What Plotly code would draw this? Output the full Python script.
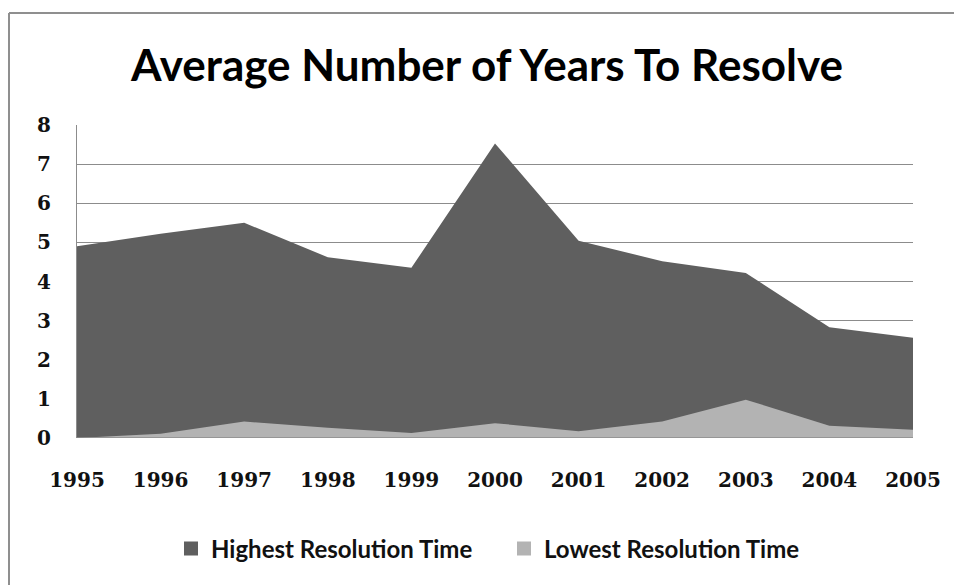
import plotly.graph_objects as go

# Average number of years to resolve, by year
years = [1995, 1996, 1997, 1998, 1999, 2000, 2001, 2002, 2003, 2004, 2005]
highest = [4.9, 5.22, 5.5, 4.62, 4.35, 7.53, 5.04, 4.52, 4.22, 2.83, 2.56]
lowest = [0.0, 0.11, 0.42, 0.26, 0.13, 0.38, 0.17, 0.42, 0.98, 0.31, 0.21]
y_ticks = [0, 1, 2, 3, 4, 5, 6, 7, 8]

DARK = "#5f5f5f"
LIGHT = "#b3b3b3"
GRID = "#8c8c8c"

W, H = 954, 585
ML, MR, MT, MB = 77, 41, 125, 147
PW = W - ML - MR
PH = H - MT - MB


def px_x(px):
    return (px - ML) / PW


def px_y(py):
    return (H - MB - py) / PH


fig = go.Figure()

# Overlapping (unstacked) areas; the lower series is drawn in front
fig.add_trace(go.Scatter(
    x=years, y=highest, mode="lines", fill="tozeroy",
    line=dict(width=0, color=DARK), fillcolor=DARK,
    showlegend=False, hoverinfo="x+y", name="Highest Resolution Time",
))
fig.add_trace(go.Scatter(
    x=years, y=lowest, mode="lines", fill="tozeroy",
    line=dict(width=0, color=LIGHT), fillcolor=LIGHT,
    showlegend=False, hoverinfo="x+y", name="Lowest Resolution Time",
))

# Square swatches for the legend
for name, col in [("Highest Resolution Time", DARK), ("Lowest Resolution Time", LIGHT)]:
    fig.add_trace(go.Scatter(
        x=[None], y=[None], mode="markers", name=name,
        marker=dict(symbol="square", size=14, color=col),
    ))

fig.update_layout(
    width=W, height=H,
    margin=dict(l=ML, r=MR, t=MT, b=MB),
    paper_bgcolor="white", plot_bgcolor="white",
    title=dict(
        text="Average Number of Years To Resolve",
        font=dict(family="Lato", size=44, color="#000000", weight="bold"),
        x=px_x(487), xref="paper", xanchor="center",
        y=1 - 66 / H, yref="container", yanchor="middle",
    ),
    xaxis=dict(
        range=[years[0], years[-1]],
        tickvals=years, ticktext=[str(y) for y in years],
        showgrid=False, zeroline=False, showline=False,
        ticks="", ticklabelstandoff=28,
        tickfont=dict(family="DejaVu Serif", size=20, color="#111111", weight="bold"),
    ),
    yaxis=dict(
        range=[0, 8], tickvals=y_ticks,
        showgrid=True, gridcolor=GRID, gridwidth=1.3,
        zeroline=False, showline=True, linecolor=GRID, linewidth=1.3,
        ticks="", ticklabelstandoff=21,
        tickfont=dict(family="DejaVu Serif", size=20, color="#111111", weight="bold"),
    ),
    legend=dict(
        orientation="h", x=px_x(171), xanchor="left", xref="paper",
        y=1 - 549 / H, yref="container", yanchor="middle",
        font=dict(family="Lato", size=24, color="#111111", weight="bold"),
        itemwidth=30, entrywidth=288, entrywidthmode="pixels",
        bgcolor="rgba(0,0,0,0)",
    ),
    showlegend=True,
    shapes=[
        # outer chart frame: top and left edges (runs past the right edge)
        dict(type="line", xref="paper", yref="paper",
             x0=px_x(9), x1=px_x(1200), y0=px_y(13), y1=px_y(13),
             line=dict(color="#8f8f8f", width=2), layer="below"),
        dict(type="line", xref="paper", yref="paper",
             x0=px_x(9), x1=px_x(9), y0=px_y(585), y1=px_y(13),
             line=dict(color="#8f8f8f", width=2), layer="below"),
        # x axis baseline
        dict(type="line", xref="paper", yref="y",
             x0=0, x1=1, y0=0, y1=0,
             line=dict(color=GRID, width=1.5), layer="above"),
    ],
)

fig.write_html("out.html", config={"displayModeBar": False})
